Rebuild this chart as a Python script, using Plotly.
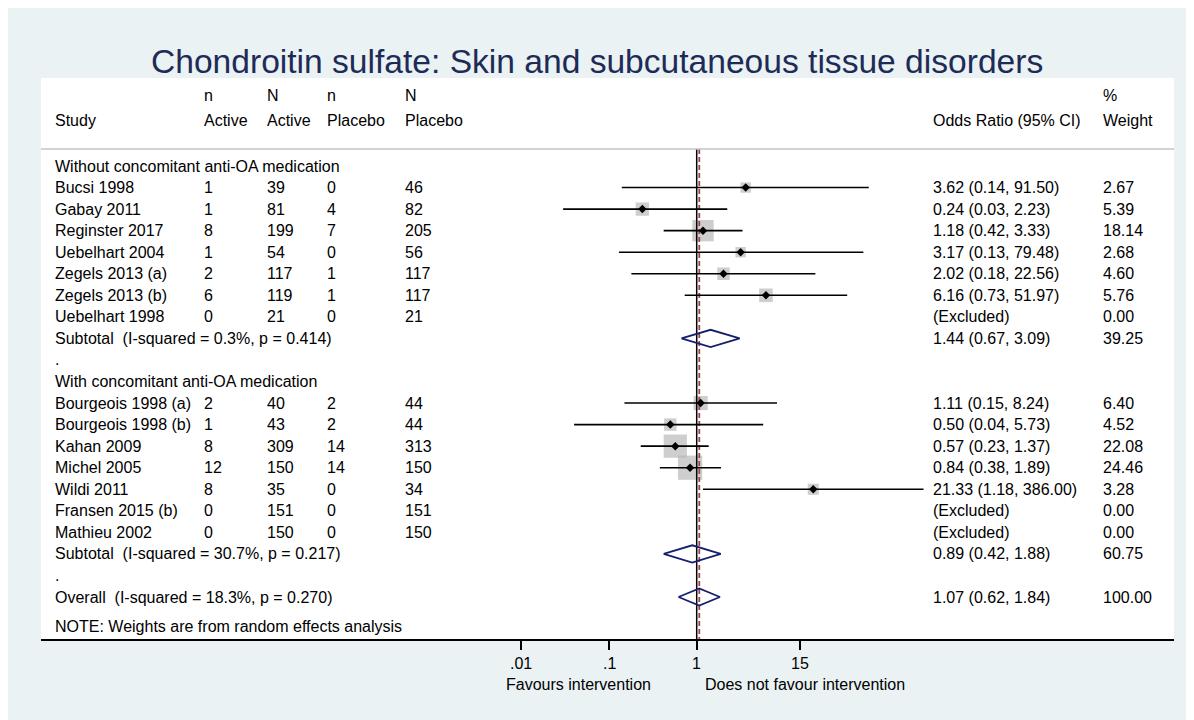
import math
import plotly.graph_objects as go

# ---------------- data ----------------
title_text = "Chondroitin sulfate: Skin and subcutaneous tissue disorders"

group1_label = "Without concomitant anti-OA medication"
g1_study = ["Bucsi 1998", "Gabay 2011", "Reginster 2017", "Uebelhart 2004",
            "Zegels 2013 (a)", "Zegels 2013 (b)", "Uebelhart 1998"]
g1_n_act = [1, 1, 8, 1, 2, 6, 0]
g1_N_act = [39, 81, 199, 54, 117, 119, 21]
g1_n_pla = [0, 4, 7, 0, 1, 1, 0]
g1_N_pla = [46, 82, 205, 56, 117, 117, 21]
g1_or = [3.62, 0.24, 1.18, 3.17, 2.02, 6.16, None]
g1_lo = [0.14, 0.03, 0.42, 0.13, 0.18, 0.73, None]
g1_hi = [91.50, 2.23, 3.33, 79.48, 22.56, 51.97, None]
g1_w = [2.67, 5.39, 18.14, 2.68, 4.60, 5.76, 0.00]
g1_sub_label = "Subtotal  (I-squared = 0.3%, p = 0.414)"
g1_sub = [1.44, 0.67, 3.09]
g1_sub_w = 39.25

group2_label = "With concomitant anti-OA medication"
g2_study = ["Bourgeois 1998 (a)", "Bourgeois 1998 (b)", "Kahan 2009", "Michel 2005",
            "Wildi 2011", "Fransen 2015 (b)", "Mathieu 2002"]
g2_n_act = [2, 1, 8, 12, 8, 0, 0]
g2_N_act = [40, 43, 309, 150, 35, 151, 150]
g2_n_pla = [2, 2, 14, 14, 0, 0, 0]
g2_N_pla = [44, 44, 313, 150, 34, 151, 150]
g2_or = [1.11, 0.50, 0.57, 0.84, 21.33, None, None]
g2_lo = [0.15, 0.04, 0.23, 0.38, 1.18, None, None]
g2_hi = [8.24, 5.73, 1.37, 1.89, 386.00, None, None]
g2_w = [6.40, 4.52, 22.08, 24.46, 3.28, 0.00, 0.00]
g2_sub_label = "Subtotal  (I-squared = 30.7%, p = 0.217)"
g2_sub = [0.89, 0.42, 1.88]
g2_sub_w = 60.75

overall_label = "Overall  (I-squared = 18.3%, p = 0.270)"
overall = [1.07, 0.62, 1.84]
overall_w = 100.00

note_text = "NOTE: Weights are from random effects analysis"
tick_vals = [0.01, 0.1, 1, 15]
tick_text = [".01", ".1", "1", "15"]
left_favour = "Favours intervention"
right_favour = "Does not favour intervention"

header_top = ["n", "N", "n", "N"]
header_bot = ["Active", "Active", "Placebo", "Placebo"]

# ---------------- geometry (screen pixel coordinates; page body margin = 8px) ----------------
OFF = 8
W, H = 1194 - OFF, 720 - OFF     # figure fills the window from the body margin to the edge
PL, PR, PT, PB = 41, 1174, 78, 639
ROW0, ROWH = 166, 21.55
X1, DEC = 696.7, 87.7           # pixel of OR=1, pixels per decade

def row_of(Y):
    return (Y - ROW0) / ROWH

def paper_x(X):
    return (X - PL) / (PR - PL)

def paper_y(Y):
    return (PB - Y) / (PB - PT)

FONT = "Liberation Sans, Arial, Helvetica, sans-serif"
FS = 16
COL_X = [202, 265, 325, 403]
STUDY_X, OR_X, W_X = 53, 931, 1101

BOX = "#B9B9B9"
NAVY = "#14206E"
RED = "#A0434E"
BG = "#EAF2F3"

annotations = []

def txt(X, r, s, size=FS, color="black", yref="y", xanchor="left"):
    annotations.append(dict(x=paper_x(X), xref="paper", y=r, yref=yref, text=s,
                            showarrow=False, xanchor=xanchor, yanchor="middle",
                            font=dict(family=FONT, size=size, color=color)))

def fmt_ci(o, l, h):
    if o is None:
        return "(Excluded)"
    return f"{o:.2f} ({l:.2f}, {h:.2f})"

# headers
txt(STUDY_X, row_of(120), "Study")
for X, a, b in zip(COL_X, header_top, header_bot):
    txt(X, row_of(95), a)
    txt(X, row_of(120), b)
txt(OR_X, row_of(120), "Odds Ratio (95% CI)")
txt(W_X, row_of(95), "%")
txt(W_X, row_of(120), "Weight")

box_x, box_y, box_s = [], [], []
ci_x, ci_y = [], []
pt_x, pt_y = [], []
dia_x, dia_y = [], []

def study_rows(start, names, na, Na, npl, Npl, orr, lo, hi, w):
    for i, name in enumerate(names):
        r = start + i
        txt(STUDY_X, r, name)
        for X, v in zip(COL_X, [na[i], Na[i], npl[i], Npl[i]]):
            txt(X, r, str(v))
        txt(OR_X, r, fmt_ci(orr[i], lo[i], hi[i]))
        txt(W_X, r, f"{w[i]:.2f}")
        if orr[i] is not None:
            box_x.append(orr[i]); box_y.append(r); box_s.append(3.5 + 4.2 * math.sqrt(w[i]))
            ci_x.extend([lo[i], hi[i], None]); ci_y.extend([r, r, None])
            pt_x.append(orr[i]); pt_y.append(r)

def pooled_row(r, label, est, wt):
    txt(STUDY_X, r, label)
    txt(OR_X, r, fmt_ci(*est))
    txt(W_X, r, f"{wt:.2f}")
    o, l, h = est
    dia_x.extend([l, o, h, o, l, None])
    dia_y.extend([r, r - 0.4, r, r + 0.4, r, None])

txt(STUDY_X, 0, group1_label)
study_rows(1, g1_study, g1_n_act, g1_N_act, g1_n_pla, g1_N_pla, g1_or, g1_lo, g1_hi, g1_w)
pooled_row(8, g1_sub_label, g1_sub, g1_sub_w)
txt(STUDY_X, 9, ".")
txt(STUDY_X, 10, group2_label)
study_rows(11, g2_study, g2_n_act, g2_N_act, g2_n_pla, g2_N_pla, g2_or, g2_lo, g2_hi, g2_w)
pooled_row(18, g2_sub_label, g2_sub, g2_sub_w)
txt(STUDY_X, 19, ".")
pooled_row(20, overall_label, overall, overall_w)
txt(STUDY_X, row_of(626), note_text)

# x tick labels and favour labels (below plot area)
for v, t in zip(tick_vals, tick_text):
    annotations.append(dict(x=math.log10(v), xref="x", y=paper_y(663), yref="paper",
                            text=t, showarrow=False, xanchor="center", yanchor="middle",
                            font=dict(family=FONT, size=FS, color="black")))
txt(653, paper_y(684), left_favour, yref="paper", xanchor="right")
txt(703, paper_y(684), right_favour, yref="paper", xanchor="left")

# title
annotations.append(dict(x=paper_x(597), xref="paper",
                        y=paper_y(61), yref="paper", text=title_text, showarrow=False,
                        xanchor="center", yanchor="middle",
                        font=dict(family=FONT, size=33.6, color="#1E2B57")))

fig = go.Figure()
y_top_line = row_of(149)
y_bot = row_of(PB)

fig.add_trace(go.Scatter(x=box_x, y=box_y, mode="markers",
                         marker=dict(symbol="square", size=box_s, color=BOX, line=dict(width=0)),
                         hoverinfo="skip", showlegend=False))
fig.add_trace(go.Scatter(x=[1, 1], y=[y_top_line, y_bot], mode="lines",
                         line=dict(color="black", width=1.5), hoverinfo="skip", showlegend=False))
fig.add_trace(go.Scatter(x=[overall[0], overall[0]], y=[y_top_line, y_bot], mode="lines",
                         line=dict(color=RED, width=1.8, dash="5px,3px"),
                         hoverinfo="skip", showlegend=False))
fig.add_trace(go.Scatter(x=ci_x, y=ci_y, mode="lines",
                         line=dict(color="black", width=1.6), hoverinfo="skip", showlegend=False))
fig.add_trace(go.Scatter(x=pt_x, y=pt_y, mode="markers",
                         marker=dict(symbol="diamond", size=6.5, color="black"),
                         hoverinfo="skip", showlegend=False))
fig.add_trace(go.Scatter(x=dia_x, y=dia_y, mode="lines",
                         line=dict(color=NAVY, width=1.8), hoverinfo="skip", showlegend=False))

shapes = [
    dict(type="line", xref="paper", yref="y", x0=0, x1=1, y0=y_top_line, y1=y_top_line,
         line=dict(color="#C4C4C4", width=1.5)),
]

fig.update_layout(
    width=W, height=H,
    margin=dict(l=PL - OFF, r=W - (PR - OFF), t=PT - OFF, b=H - (PB - OFF), pad=0),
    paper_bgcolor=BG, plot_bgcolor="white",
    showlegend=False,
    annotations=annotations, shapes=shapes,
    xaxis=dict(type="log", range=[(PL - X1) / DEC, (PR - X1) / DEC], autorange=False,
               showgrid=False, zeroline=False, showline=True, linecolor="black", linewidth=1.5,
               ticks="outside", ticklen=9, tickwidth=1.5, tickcolor="black",
               tickvals=tick_vals, ticktext=tick_text, showticklabels=False, fixedrange=True),
    yaxis=dict(range=[row_of(PB), row_of(PT)], autorange=False, showgrid=False,
               zeroline=False, showline=False, showticklabels=False, ticks="", fixedrange=True),
    font=dict(family=FONT, size=FS, color="black"),
)

fig.write_html("out.html")
